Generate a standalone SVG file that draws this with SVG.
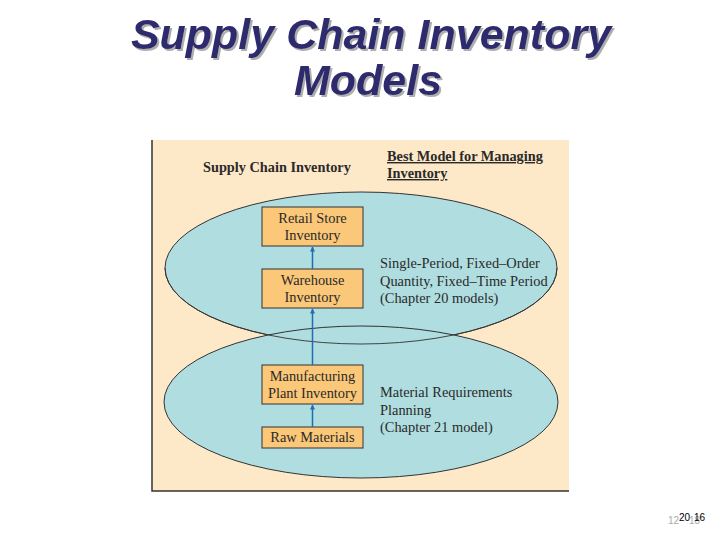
<svg xmlns="http://www.w3.org/2000/svg" width="720" height="540" viewBox="0 0 720 540">
<style>
.title{font-family:"Liberation Sans",Arial,sans-serif;font-weight:bold;font-style:italic;font-size:43px;text-anchor:middle;fill:#2e2a6e;filter:url(#sh)}
.t{font-family:"Liberation Serif","Times New Roman",serif;font-size:14.4px;fill:#2a2a2a}
.b{font-weight:bold}
.c{text-anchor:middle}
.box{fill:#fbc778;stroke:#333;stroke-width:1}
.ell{fill:#b0dde0;stroke:#333;stroke-width:1}
.arr{stroke:#1f6db3;stroke-width:1.5;fill:none;marker-end:url(#ah)}
</style>
<defs>
<marker id="ah" viewBox="0 0 10 10" refX="9" refY="5" markerWidth="5" markerHeight="7" orient="auto" markerUnits="userSpaceOnUse">
<path d="M0,0 L10,5 L0,10 z" fill="#1f6db3"/>
</marker>
<filter id="sh" x="-5%" y="-20%" width="110%" height="140%">
<feDropShadow dx="2" dy="2" stdDeviation="0.6" flood-color="#9a9a9a" flood-opacity="0.8"/>
</filter>
</defs>
<rect width="720" height="540" fill="#fff"/>
<g id="title">
<text class="title" x="371" y="49">Supply Chain Inventory</text>
<text class="title" x="368" y="95">Models</text>
</g>
<g id="panel">
<rect x="152" y="140" width="417" height="351" fill="#fde8c8"/>
<path d="M152,140 V491 H569" fill="none" stroke="#333" stroke-width="1.5"/>
</g>
<g id="ellipse-upper"><ellipse class="ell" cx="361" cy="268" rx="196" ry="76"/></g>
<g id="ellipse-lower"><ellipse class="ell" cx="361" cy="402" rx="197" ry="76"/></g>
<path d="M361,268 m-196,0 a196,76 0 0 0 392,0" fill="none" stroke="#333" stroke-width="1" opacity="0.9"/>
<g id="headers">
<text class="t b" x="203" y="172" style="font-size:14.3px">Supply Chain Inventory</text>
<text class="t b" x="387" y="161" style="font-size:14.3px" text-decoration="underline">Best Model for Managing</text>
<text class="t b" x="387" y="178" style="font-size:14.3px" text-decoration="underline">Inventory</text>
</g>
<g id="retail">
<rect class="box" x="262" y="207" width="101" height="39"/>
<text class="t c" x="312.5" y="223">Retail Store</text>
<text class="t c" x="312.5" y="240">Inventory</text>
</g>
<g id="warehouse">
<rect class="box" x="262" y="269" width="101" height="39"/>
<text class="t c" x="312.5" y="285">Warehouse</text>
<text class="t c" x="312.5" y="302">Inventory</text>
</g>
<g id="manufacturing">
<rect class="box" x="262" y="365" width="101" height="39"/>
<text class="t c" x="312.5" y="381">Manufacturing</text>
<text class="t c" x="312.5" y="398">Plant Inventory</text>
</g>
<g id="raw">
<rect class="box" x="262" y="427" width="101" height="21"/>
<text class="t c" x="312.5" y="442">Raw Materials</text>
</g>
<g id="model-upper">
<text class="t" x="380" y="268">Single-Period, Fixed–Order</text>
<text class="t" x="380" y="286">Quantity, Fixed–Time Period</text>
<text class="t" x="380" y="303">(Chapter 20 models)</text>
</g>
<g id="model-lower">
<text class="t" x="380" y="397">Material Requirements</text>
<text class="t" x="380" y="415">Planning</text>
<text class="t" x="380" y="432">(Chapter 21 model)</text>
</g>
<g id="connectors">
<line class="arr" x1="312.5" y1="269" x2="312.5" y2="247"/>
<line class="arr" x1="312.5" y1="365" x2="312.5" y2="309"/>
<line class="arr" x1="312.5" y1="427" x2="312.5" y2="405"/>
</g>
<g id="pagenum" font-family="'Liberation Sans',Arial,sans-serif" font-size="10">
<text x="668" y="524" fill="#aaa">12</text>
<text x="679" y="521" fill="#000">20</text>
<text x="689" y="524" fill="#aaa">18</text>
<text x="694" y="521" fill="#000">16</text>
</g>
</svg>
